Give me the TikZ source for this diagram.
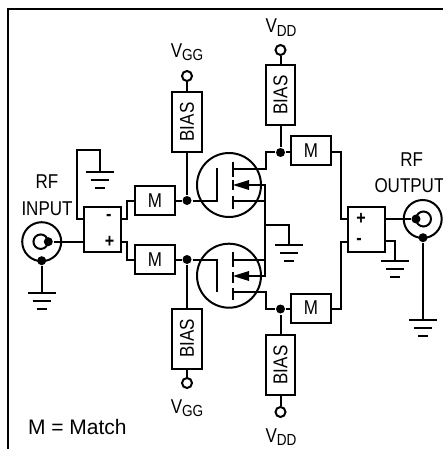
\documentclass[tikz,border=0pt]{standalone}
\usepackage{fontspec}
\setmainfont[FakeStretch=0.85]{Liberation Sans}
\newfontfamily\keyfont{Liberation Sans}
\usetikzlibrary{arrows}
\newcommand{\subtxt}[1]{\raisebox{-3.5pt}{\fontsize{16}{16}\selectfont #1}}
\tikzset{
  block/.style={rectangle,draw,line width=2pt,inner sep=0pt},
  matchbox/.style={block,minimum width=40pt,minimum height=29pt,font=\fontsize{20}{20}\selectfont},
  biasbox/.style={block,minimum width=29.5pt,minimum height=60pt},
  biastxt/.style={rotate=90,font=\fontsize{20}{20}\selectfont,inner sep=0pt},
  hybrid/.style={block,minimum width=37pt,minimum height=45pt},
  dot/.style={circle,fill=black,inner sep=0pt,minimum size=9pt},
  port/.style={circle,draw,line width=2pt,fill=white,inner sep=0pt,minimum size=10pt},
  fet/.style={circle,draw,line width=2pt,inner sep=0pt,minimum size=64pt},
  lbl/.style={font=\fontsize{20}{20}\selectfont,inner sep=0pt,anchor=base},
  sign/.style={font=\fontsize{19}{19}\selectfont\bfseries,inner sep=0pt}
}
\begin{document}
\begin{tikzpicture}[x=1pt,y=-1pt,line width=2pt]
  \useasboundingbox (0,0) rectangle (443,449);
  % frame
  \coordinate (fa) at (8,449);
  \coordinate (fb) at (8,9);
  \coordinate (fc) at (443,9);
  \draw[line width=1.5pt] (fa) -- (fb) -- (fc);

  % input side
  \node[hybrid](hin) at (102.5,229.5){};
  \node[sign](hinm) at (108.7,217.7){-};
  \node[sign](hinp) at (109.7,241.7){+};
  \node[matchbox](m1) at (155,200.5){M};
  \node[matchbox](m2) at (155,259.5){M};
  \node[circle,draw,minimum size=39pt,inner sep=0pt](jin) at (41.7,241.7){};
  \node[circle,draw,minimum size=14.5pt,inner sep=0pt](jini) at (40.7,241.7){};
  \node[dot](jina) at (48.3,241.7){};
  \node[dot](jinb) at (41.7,260.7){};
  \node[lbl](trf) at (47,188){RF};
  \node[lbl](tin) at (47,215){INPUT};

  % gate side
  \node[dot](g1) at (187,200.5){};
  \node[dot](g2) at (187,259.5){};
  \node[biasbox](bg1) at (187,122){};
  \node[biastxt](tbg1) at (187,122){BIAS};
  \node[biasbox](bg2) at (187,338.5){};
  \node[biastxt](tbg2) at (187,338.5){BIAS};
  \node[port](pg1) at (187,76){};
  \node[port](pg2) at (187,383){};
  \node[lbl](tg1) at (187,57.5){V\subtxt{GG}};
  \node[lbl](tg2) at (187,413){V\subtxt{GG}};

  % transistors
  \node[fet](q1) at (229,185){};
  \node[fet](q2) at (229,275.7){};

  % drain side
  \node[dot](d1) at (280.5,152.5){};
  \node[dot](d2) at (280.5,309){};
  \node[biasbox](bd1) at (280.5,95){};
  \node[biastxt](tbd1) at (280.5,95){BIAS};
  \node[biasbox](bd2) at (280.5,365){};
  \node[biastxt](tbd2) at (280.5,365){BIAS};
  \node[port](pd1) at (280.5,50){};
  \node[port](pd2) at (280.5,412){};
  \node[lbl](td1) at (281,33){V\subtxt{DD}};
  \node[lbl](td2) at (281,442){V\subtxt{DD}};
  \node[matchbox](m3) at (311,150.5){M};
  \node[matchbox](m4) at (311,308){M};

  % output side
  \node[hybrid](hout) at (366,229.5){};
  \node[sign](houtp) at (361,219){+};
  \node[sign](houtm) at (359,241){-};
  \node[circle,draw,minimum size=38pt,inner sep=0pt](jout) at (422.7,219){};
  \node[circle,draw,minimum size=15pt,inner sep=0pt](jouti) at (423.5,219){};
  \node[dot](jouta) at (416,219){};
  \node[dot](joutb) at (423,237.7){};
  \node[lbl](trfo) at (411.7,166){RF};
  \node[lbl,anchor=base west](tout) at (373.5,192){OUTPUT};

  \node[font=\fontsize{21}{21}\selectfont\keyfont,inner sep=0pt,anchor=base west](key) at (27,434){M = Match};

  % wires
  \draw (jina) -- (jina -| hin.west);
  \draw (jinb) -- (41.7,293);
  \draw (84,219) -- (77,219) -- (77,150) -- (99.5,150) -- (99.5,172);
  \draw (121,219) -- (127,219) -- (127,200.5) -- (m1.west);
  \draw (121,241.7) -- (127,241.7) -- (127,259.5) -- (m2.west);
  \draw (m1) -- (g1) -- (217.3,200.5);
  \draw (m2) -- (g2) -- (217.3,259.5);
  \draw (pg1) -- (bg1);
  \draw (bg1) -- (g1);
  \draw (pg2) -- (bg2);
  \draw (bg2) -- (g2);
  \draw (pd1) -- (bd1);
  \draw (bd1) -- (d1);
  \draw (pd2) -- (bd2);
  \draw (bd2) -- (d2);
  \draw (d1) -- (d1 -| m3.west);
  \draw (d2) -- (d2 -| m4.west);

  % fet internals
  \draw (217.3,168) -- (217.3,201.5);
  \draw (233,162) -- (233,177);
  \draw (233,180) -- (233,190);
  \draw (233,196) -- (233,209);
  \draw (233,169.3) -- (265.7,169.3) -- (265.7,152.5) -- (d1);
  \draw (233,201) -- (265,201);
  \draw (217.3,259) -- (217.3,292);
  \draw (233,252) -- (233,267);
  \draw (233,272) -- (233,283);
  \draw (233,288) -- (233,300);
  \draw (233,292) -- (265.7,292) -- (265.7,309) -- (d2);
  \draw (233,260) -- (265,260);
  \draw (265,184) -- (265,277);
  \draw (245,185) -- (265,185);
  \draw (245,276) -- (265,276);
  \fill (233,185) -- (249,180) -- (249,190) -- cycle;
  \fill (233,276) -- (249,271) -- (249,281) -- cycle;
  \draw (265,225) -- (289,225) -- (289,245);

  % output wires
  \draw (m3.east |- 0,152.5) -- (340.7,152.5) -- (340.7,219) -- (hout.west |- 0,219);
  \draw (m4.east |- 0,309.3) -- (340.7,309.3) -- (340.7,241.7) -- (hout.west |- 0,241.7);
  \draw (hout.east |- 0,219) -- (jouta);
  \draw (joutb) -- (423,320);
  \draw (384,241) -- (395,241) -- (395,261);

  % ground symbols
  \foreach \x/\y in {41.7/293,99.5/172,289/245,395/261,423/320}{
    \draw (\x-14,\y) -- (\x+14,\y);
    \draw (\x-9,\y+8) -- (\x+9,\y+8);
    \draw (\x-5,\y+16) -- (\x+5,\y+16);
  }
\end{tikzpicture}
\end{document}
